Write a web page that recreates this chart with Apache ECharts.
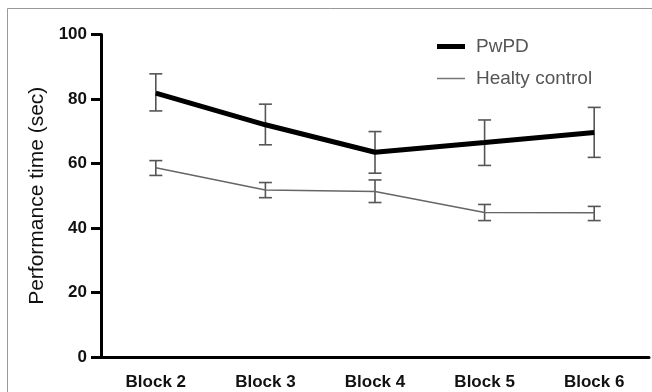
<!DOCTYPE html>
<html>
<head>
<meta charset="utf-8">
<script src="https://cdn.jsdelivr.net/npm/echarts@6/dist/echarts.min.js"></script>
<style>html,body{margin:0;padding:0;background:#fff}#c{width:652px;height:392px}</style>
</head>
<body>
<div id="c"></div>
<script>
var categories = ['Block 2', 'Block 3', 'Block 4', 'Block 5', 'Block 6'];
var pwpdMean = [81.8, 72.0, 63.5, 66.5, 69.6];
var pwpdLow  = [76.3, 65.8, 57.0, 59.4, 61.9];
var pwpdHigh = [87.8, 78.4, 69.9, 73.5, 77.4];
var hcMean = [58.7, 51.8, 51.3, 44.8, 44.7];
var hcLow  = [56.3, 49.4, 47.9, 42.3, 42.3];
var hcHigh = [60.9, 54.1, 54.9, 47.3, 46.7];
var yTicks = [0, 20, 40, 60, 80, 100];

var chart = echarts.init(document.getElementById('c'));
var font = '"Liberation Sans", Arial, sans-serif';

function errData(lo, hi) {
  return categories.map(function (c, i) { return [i, lo[i], hi[i]]; });
}
function errRender(params, api) {
  var x = api.value(0);
  var pHi = api.coord([x, api.value(2)]);
  var pLo = api.coord([x, api.value(1)]);
  var hw = 6.5;
  var st = { stroke: '#555', lineWidth: 1.6 };
  return {
    type: 'group',
    children: [
      { type: 'line', shape: { x1: pHi[0], y1: pHi[1], x2: pLo[0], y2: pLo[1] }, style: st },
      { type: 'line', shape: { x1: pHi[0] - hw, y1: pHi[1], x2: pHi[0] + hw, y2: pHi[1] }, style: st },
      { type: 'line', shape: { x1: pLo[0] - hw, y1: pLo[1], x2: pLo[0] + hw, y2: pLo[1] }, style: st }
    ]
  };
}

chart.setOption({
  animation: false,
  backgroundColor: '#fff',
  textStyle: { fontFamily: font },
  graphic: [
    { type: 'rect', shape: { x: 7.5, y: 8.5, width: 800, height: 600 }, style: { fill: null, stroke: '#999', lineWidth: 1 }, silent: true }
  ],
  grid: { left: 101, right: 3, top: 34.5, bottom: 35 },
  legend: {
    orient: 'vertical',
    left: 432,
    top: 32,
    itemGap: 13,
    itemWidth: 28,
    itemHeight: 20,
    textStyle: { fontSize: 19, color: '#555', fontFamily: font, padding: [0, 0, 0, 6] },
    data: [
      { name: 'PwPD', icon: 'path://M0,0H28V5H0Z', itemStyle: { color: '#000' } },
      { name: 'Healty control', icon: 'path://M0,0H28V1.5H0Z', itemStyle: { color: '#777' } }
    ]
  },
  xAxis: {
    type: 'category',
    data: categories,
    boundaryGap: true,
    axisLine: { lineStyle: { color: '#000', width: 3 } },
    axisTick: { alignWithLabel: true, length: 10, lineStyle: { color: '#000', width: 3 } },
    axisLabel: { fontSize: 17, fontWeight: 'bold', color: '#111', margin: 17 }
  },
  yAxis: {
    type: 'value',
    min: 0, max: 100, interval: 20,
    name: 'Performance time (sec)',
    nameLocation: 'middle',
    nameRotate: 90,
    nameGap: 51,
    nameTextStyle: { fontSize: 21, color: '#111', fontFamily: font },
    splitLine: { show: false },
    axisLine: { show: true, lineStyle: { color: '#000', width: 3 } },
    axisTick: { show: true, length: 10, lineStyle: { color: '#000', width: 3 } },
    axisLabel: { fontSize: 17, fontWeight: 'bold', color: '#111', margin: 14,
      formatter: function (v) { return yTicks.indexOf(v) >= 0 ? String(v) : ''; } }
  },
  series: [
    { name: 'PwPD-err', type: 'custom', renderItem: errRender, data: errData(pwpdLow, pwpdHigh), z: 1, silent: true },
    { name: 'HC-err', type: 'custom', renderItem: errRender, data: errData(hcLow, hcHigh), z: 1, silent: true },
    { name: 'PwPD', type: 'line', data: pwpdMean, symbol: 'none', z: 3,
      lineStyle: { color: '#000', width: 5 }, itemStyle: { color: '#000' } },
    { name: 'Healty control', type: 'line', data: hcMean, symbol: 'none', z: 2,
      lineStyle: { color: '#666', width: 1.5 }, itemStyle: { color: '#777' } }
  ]
});
</script>
</body>
</html>
